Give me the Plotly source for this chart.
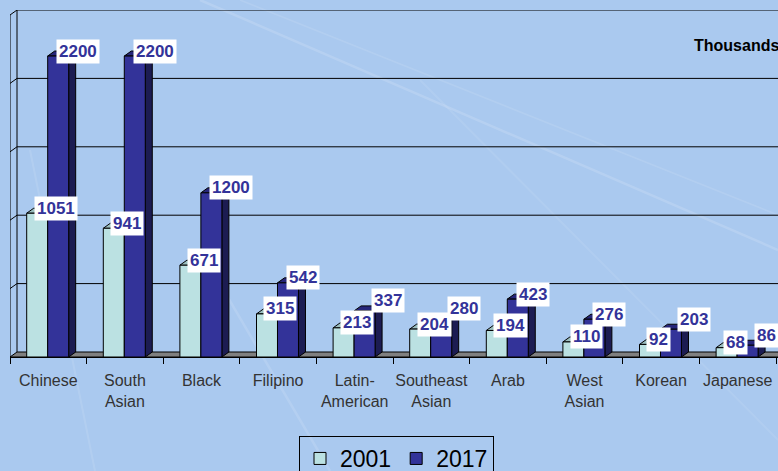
import plotly.graph_objects as go

categories = ["Chinese", "South Asian", "Black", "Filipino", "Latin-American",
              "Southeast Asian", "Arab", "West Asian", "Korean", "Japanese"]
tick_labels = ["Chinese", "South<br>Asian", "Black", "Filipino", "Latin-<br>American",
               "Southeast<br>Asian", "Arab", "West<br>Asian", "Korean", "Japanese"]
values_2001 = [1051, 941, 671, 315, 213, 204, 194, 110, 92, 68]
values_2017 = [2200, 2200, 1200, 542, 337, 280, 423, 276, 203, 86]
series_names = ["2001", "2017"]
y_gridlines = [500, 1000, 1500, 2000, 2500]

# layout geometry
W, H = 778, 471
ML, MT, MB = 10, 10, 114
PLOT_BOTTOM = H - MB
X_PX = 76.6                       # pixels per category
Y_MAX = 2500
Y_PX = 342 / Y_MAX                # pixels per unit
DX_PX, DY_PX = 7, 5               # 3D depth offset in pixels
dx = DX_PX / X_PX
dy = DY_PX / Y_PX
BAR_W = 0.274
n = len(categories)
xs = list(range(n))

front_cols = ["#bbe1e2", "#333399"]
top_cols = ["#9cbfc0", "#26267a"]
side_cols = ["#8fb3b4", "#1c1c52"]
label_col = "#333399"
bg = "#aac9ef"

fig = go.Figure()
offsets = [-BAR_W - 0.008, -0.008]
for k, (name, vals) in enumerate(zip(series_names, [values_2001, values_2017])):
    fig.add_trace(go.Bar(
        x=xs, y=vals, name=name, width=BAR_W, offset=offsets[k],
        marker=dict(color=front_cols[k], line=dict(color="black", width=1)),
        hoverinfo="y+name",
    ))


def px_to_paper(px, py):
    return (px - ML) / (W - ML), (PLOT_BOTTOM - py) / (PLOT_BOTTOM - MT)


shapes = []
# faint decorative light streaks of the slide background
streaks = [((200, 0), (778, 250), 2.5, 0.14), ((240, 0), (778, 215), 1.5, 0.10),
           ((30, 150), (95, 471), 2, 0.10), ((200, 250), (330, 471), 2.5, 0.12),
           ((420, 80), (778, 440), 2, 0.08)]
for (p0, p1, wdt, op) in streaks:
    a0 = px_to_paper(*p0)
    a1 = px_to_paper(*p1)
    shapes.append(dict(type="line", xref="paper", yref="paper", layer="below",
                       x0=a0[0], y0=a0[1], x1=a1[0], y1=a1[1], opacity=op,
                       line=dict(color="white", width=wdt)))
# gridlines on left wall + back wall
for v in y_gridlines:
    shapes.append(dict(type="path", xref="x", yref="y", layer="below",
                       path=f"M{-0.5},{v} L{-0.5+dx},{v+dy} L{n-0.5+dx+1},{v+dy}",
                       line=dict(color="black", width=1)))
# back wall left edge
shapes.append(dict(type="line", xref="x", yref="y", layer="below",
                   x0=-0.5+dx, x1=-0.5+dx, y0=dy, y1=Y_MAX+dy,
                   line=dict(color="black", width=1)))
# front left axis
shapes.append(dict(type="line", xref="x", yref="y", layer="above",
                   x0=-0.5, x1=-0.5, y0=0, y1=Y_MAX,
                   line=dict(color="black", width=1)))
# floor
shapes.append(dict(type="path", xref="x", yref="y", layer="below",
                   path=f"M{-0.5},0 L{n-0.5+1},0 L{n-0.5+1+dx},{dy} L{-0.5+dx},{dy} Z",
                   fillcolor="#808080", line=dict(color="black", width=1)))
# 3D faces of bars
for k, vals in enumerate([values_2001, values_2017]):
    for i, v in enumerate(vals):
        xl = i + offsets[k]
        xr = xl + BAR_W
        shapes.append(dict(type="path", xref="x", yref="y", layer="below",
                           path=f"M{xr},0 L{xr},{v} L{xr+dx},{v+dy} L{xr+dx},{dy} Z",
                           fillcolor=side_cols[k], line=dict(color="black", width=1)))
        shapes.append(dict(type="path", xref="x", yref="y", layer="below",
                           path=f"M{xl},{v} L{xr},{v} L{xr+dx},{v+dy} L{xl+dx},{v+dy} Z",
                           fillcolor=top_cols[k], line=dict(color="black", width=1)))

# data labels (2017 labels nudged right/up when they would collide with 2001 labels)
LABEL_H = 22
annotations = []
label_font = dict(family="Arial, Liberation Sans, sans-serif", size=17,
                  color=label_col, weight="bold")
for i in xs:
    v1, v2 = values_2001[i], values_2017[i]
    collide = abs((v2 - v1) * Y_PX) < LABEL_H
    for k, v in enumerate((v1, v2)):
        xc = i + offsets[k] + BAR_W / 2
        xs_ = -3.5 if k == 0 else -2
        ys_ = 0
        if k == 1 and collide:
            xs_ += 8
            ys_ = 5
        annotations.append(dict(
            x=xc, y=v + dy, xref="x", yref="y", text=str(v), showarrow=False,
            xanchor="left", yanchor="middle", xshift=xs_, yshift=ys_,
            bgcolor="white", borderpad=2, font=label_font))
tx, ty = px_to_paper(692, 45)
annotations.append(dict(
    x=tx, y=ty, xref="paper", yref="paper",
    text="Thousands", showarrow=False, xanchor="left", yanchor="middle",
    font=dict(family="Arial, Liberation Sans, sans-serif", size=16, color="black",
              weight="bold")))

lx, ly = px_to_paper(299, 436)
fig.update_layout(
    width=W, height=H, autosize=False,
    margin=dict(l=ML, r=0, t=MT, b=MB, pad=0, autoexpand=False),
    paper_bgcolor=bg, plot_bgcolor="rgba(0,0,0,0)",
    barmode="overlay", showlegend=True,
    shapes=shapes, annotations=annotations,
    legend=dict(orientation="h", x=lx, xanchor="left", y=ly, yanchor="top",
                bgcolor="rgba(0,0,0,0)", bordercolor="black", borderwidth=1,
                font=dict(family="Arial, Liberation Sans, sans-serif", size=23,
                          color="black"),
                itemwidth=30, tracegroupgap=0),
    xaxis=dict(range=[-0.5, -0.5 + (W - ML) / X_PX], tickvals=xs, ticktext=tick_labels,
               ticks="", showgrid=False, zeroline=False, fixedrange=True,
               tickangle=0, automargin=False, ticklabelstandoff=9,
               showline=True, linecolor="black", linewidth=1,
               tickfont=dict(family="Arial, Liberation Sans, sans-serif",
                             size=16, color="#333333"),
               minor=dict(tickvals=[i - 0.5 for i in range(n + 1)], ticks="outside",
                          ticklen=6, tickcolor="black", tickwidth=1, showgrid=False)),
    yaxis=dict(range=[0, Y_MAX + dy], showticklabels=False, showgrid=False,
               zeroline=False, showline=False, ticks="", fixedrange=True,
               automargin=False),
)

fig.write_html("out.html", config={"displayModeBar": False},
               post_script="document.body.style.margin='0';document.body.style.overflow='hidden';")
